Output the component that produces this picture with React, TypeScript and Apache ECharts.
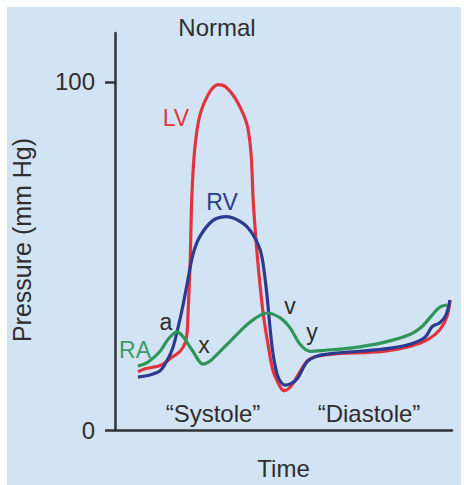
import React, { useEffect, useRef } from "react";
import * as echarts from "echarts";

// time (0..100 across the x axis) and pressure (mm Hg)
const lvTime = [6.8, 8.9, 13.4, 16.3, 19.3, 20.8, 21.4, 21.7, 22.3, 22.8, 23.7, 25.2, 28.2, 30.6, 32.9, 36.2, 39.2, 40.4, 41.0, 41.8, 42.4, 43.9, 45.4, 46.9, 49.0, 50.1, 51.9, 54.0, 57.0, 59.9, 64.7, 79.5, 87.5, 92.9, 96.4, 98.5, 99.4];
const lvPressure = [16.7, 17.6, 18.5, 20.5, 22.6, 25, 28, 34, 48, 67, 81, 90.4, 97.2, 99.2, 98.5, 94.4, 87.6, 79, 66, 55, 48, 34, 24.6, 17, 12.4, 11.3, 12.2, 15.3, 19.8, 21.2, 21.8, 22.6, 24, 26, 28.8, 32.5, 37.3];

const rvTime = [6.8, 10.4, 13.4, 15.4, 17.2, 18.7, 20.2, 21.7, 23.1, 25.2, 29.1, 33.2, 37.9, 40.9, 43.0, 43.9, 45.1, 46.0, 46.9, 48.4, 50.4, 52.2, 54.0, 57.0, 59.9, 64.7, 79.5, 87.5, 92.0, 94.1, 96.4, 98.2, 99.4];
const rvPressure = [15.2, 15.8, 17, 19.8, 23.7, 29.4, 35.9, 43.5, 50.3, 55.6, 60.2, 61.3, 59.4, 56.2, 52, 48, 38.7, 29.4, 21.8, 15.2, 12.9, 13.3, 14.6, 19.6, 21.2, 22, 23.2, 24.6, 26.6, 29.7, 30.8, 33, 37.3];

const raTime = [6.8, 9.8, 13.4, 15.7, 18.4, 20.2, 23.1, 26.1, 28.2, 31.2, 34.1, 40.1, 45.1, 49.0, 51.9, 54.9, 57.9, 62.3, 69.7, 79.5, 87.5, 91.1, 94.1, 96.4, 98.5];
const raPressure = [18.4, 19.5, 22.6, 26, 28.2, 26.8, 22.6, 18.9, 19.8, 22.6, 25.4, 31, 33.6, 32.2, 29.4, 24.6, 22.6, 22.9, 23.5, 25.1, 27.4, 29.7, 33, 35.3, 35.9];

const yTickValues = [0, 100];

const seriesNames = ["LV", "RV", "RA"];
const seriesColors = ["#e2343f", "#2d3b8e", "#2f9559"];

const FONT = "Liberation Sans, Arial, sans-serif";
const TEXT = "#2e2e2e";

function pairs(xs: number[], ys: number[]) {
  return xs.map((x, i) => [x, ys[i]]);
}

export default function App() {
  const ref = useRef<HTMLDivElement>(null);
  useEffect(() => {
    if (!ref.current) return;
    const chart = echarts.init(ref.current, null, { renderer: "svg" });
    const datasets = [pairs(lvTime, lvPressure), pairs(rvTime, rvPressure), pairs(raTime, raPressure)];
    const txt = (text: string, x: number, y: number, color: string, size = 23, rotation = 0) => ({
      type: "text",
      x,
      y,
      rotation,
      style: { text, fill: color, font: `${size}px ${FONT}`, align: "center", verticalAlign: "middle" },
    });
    chart.setOption({
      animation: false,
      backgroundColor: "#ffffff",
      graphic: [
        { type: "rect", shape: { x: 7, y: 7, width: 454, height: 478 }, style: { fill: "#d2e3f3" }, z: -10 },
        txt("Normal", 217, 27, TEXT, 24),
        txt("Pressure (mm Hg)", 22, 240, TEXT, 25, Math.PI / 2),
        txt("LV", 176, 118, seriesColors[0], 23),
        txt("RV", 222, 202, seriesColors[1], 23),
        txt("RA", 135, 350, "#3b9b68", 23),
        txt("a", 166, 322, TEXT, 23),
        txt("x", 204, 345, TEXT, 23),
        txt("v", 290, 306, TEXT, 23),
        txt("y", 312, 332, TEXT, 23),
        txt("\u201cSystole\u201d", 213, 413, TEXT, 24),
        txt("\u201cDiastole\u201d", 369, 413, TEXT, 24),
      ],
      grid: { left: 115, right: 12, top: 33, bottom: 48, containLabel: false },
      xAxis: {
        type: "value",
        min: 0,
        max: 100,
        name: "Time",
        nameLocation: "middle",
        nameGap: 26,
        nameTextStyle: { color: TEXT, fontSize: 24, fontFamily: FONT },
        axisLine: { show: true, lineStyle: { color: "#2f3338", width: 2.5 } },
        axisTick: { show: false },
        axisLabel: { show: false },
        splitLine: { show: false },
      },
      yAxis: {
        type: "value",
        min: 0,
        max: 114,
        axisLine: { show: true, lineStyle: { color: "#2f3338", width: 2.5 } },
        axisTick: { show: true, length: 10, customValues: yTickValues, lineStyle: { color: "#2f3338", width: 2.5 } },
        axisLabel: { show: true, customValues: yTickValues, margin: 20, color: TEXT, fontSize: 24, fontFamily: FONT },
        splitLine: { show: false },
      },
      series: seriesNames.map((name, i) => ({
        name,
        type: "line",
        data: datasets[i],
        smooth: 0.3,
        showSymbol: false,
        symbol: "none",
        lineStyle: { color: seriesColors[i], width: 3.2 },
        z: 2 + i,
      })),
    });
    return () => chart.dispose();
  }, []);
  return <div ref={ref} style={{ position: "fixed", left: 0, top: 0, width: 464, height: 485 }} />;
}
